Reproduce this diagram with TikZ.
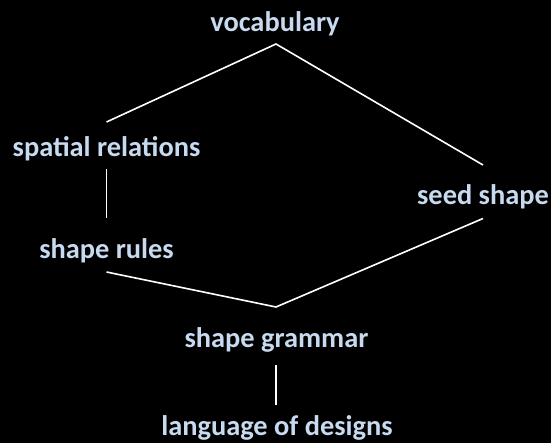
\documentclass[tikz,border=0pt]{standalone}
\usepackage{fontspec}
\setmainfont{Carlito}
\definecolor{lbl}{RGB}{200,218,240}
\begin{document}
\begin{tikzpicture}[x=1pt,y=-1pt,
  lab/.style={text=lbl,font=\bfseries\fontsize{28.4}{32}\selectfont,inner sep=0pt,anchor=center},
  link/.style={draw=white,line width=1.6pt}]
\fill[black] (0,0) rectangle (551,443);
\node[lab] (voc) at (275,23.5) {vocabulary};
\node[lab] (spat) at (106.5,148.5) {spatial relations};
\node[lab] (seed) at (483,197) {seed shape};
\node[lab] (rules) at (106.5,251) {shape rules};
\node[lab] (gram) at (276.5,340) {shape grammar};
\node[lab] (lang) at (277,428) {language of designs};
\coordinate (apexT) at (276,44);
\coordinate (spatR) at (106.5,122);
\coordinate (seedT) at (483,165);
\coordinate (spatB) at (106.5,169);
\coordinate (rulesT) at (106.5,218.5);
\coordinate (rulesB) at (106.5,272);
\coordinate (seedB) at (483,218.5);
\coordinate (apexB) at (276,307);
\coordinate (gramB) at (276,365);
\coordinate (langT) at (276,405);
\draw[link] (spatR) -- (apexT) -- (seedT);
\draw[link] (spatB) -- (rulesT);
\draw[link] (rulesB) -- (apexB) -- (seedB);
\draw[link] (gramB) -- (langT);
\end{tikzpicture}
\end{document}
